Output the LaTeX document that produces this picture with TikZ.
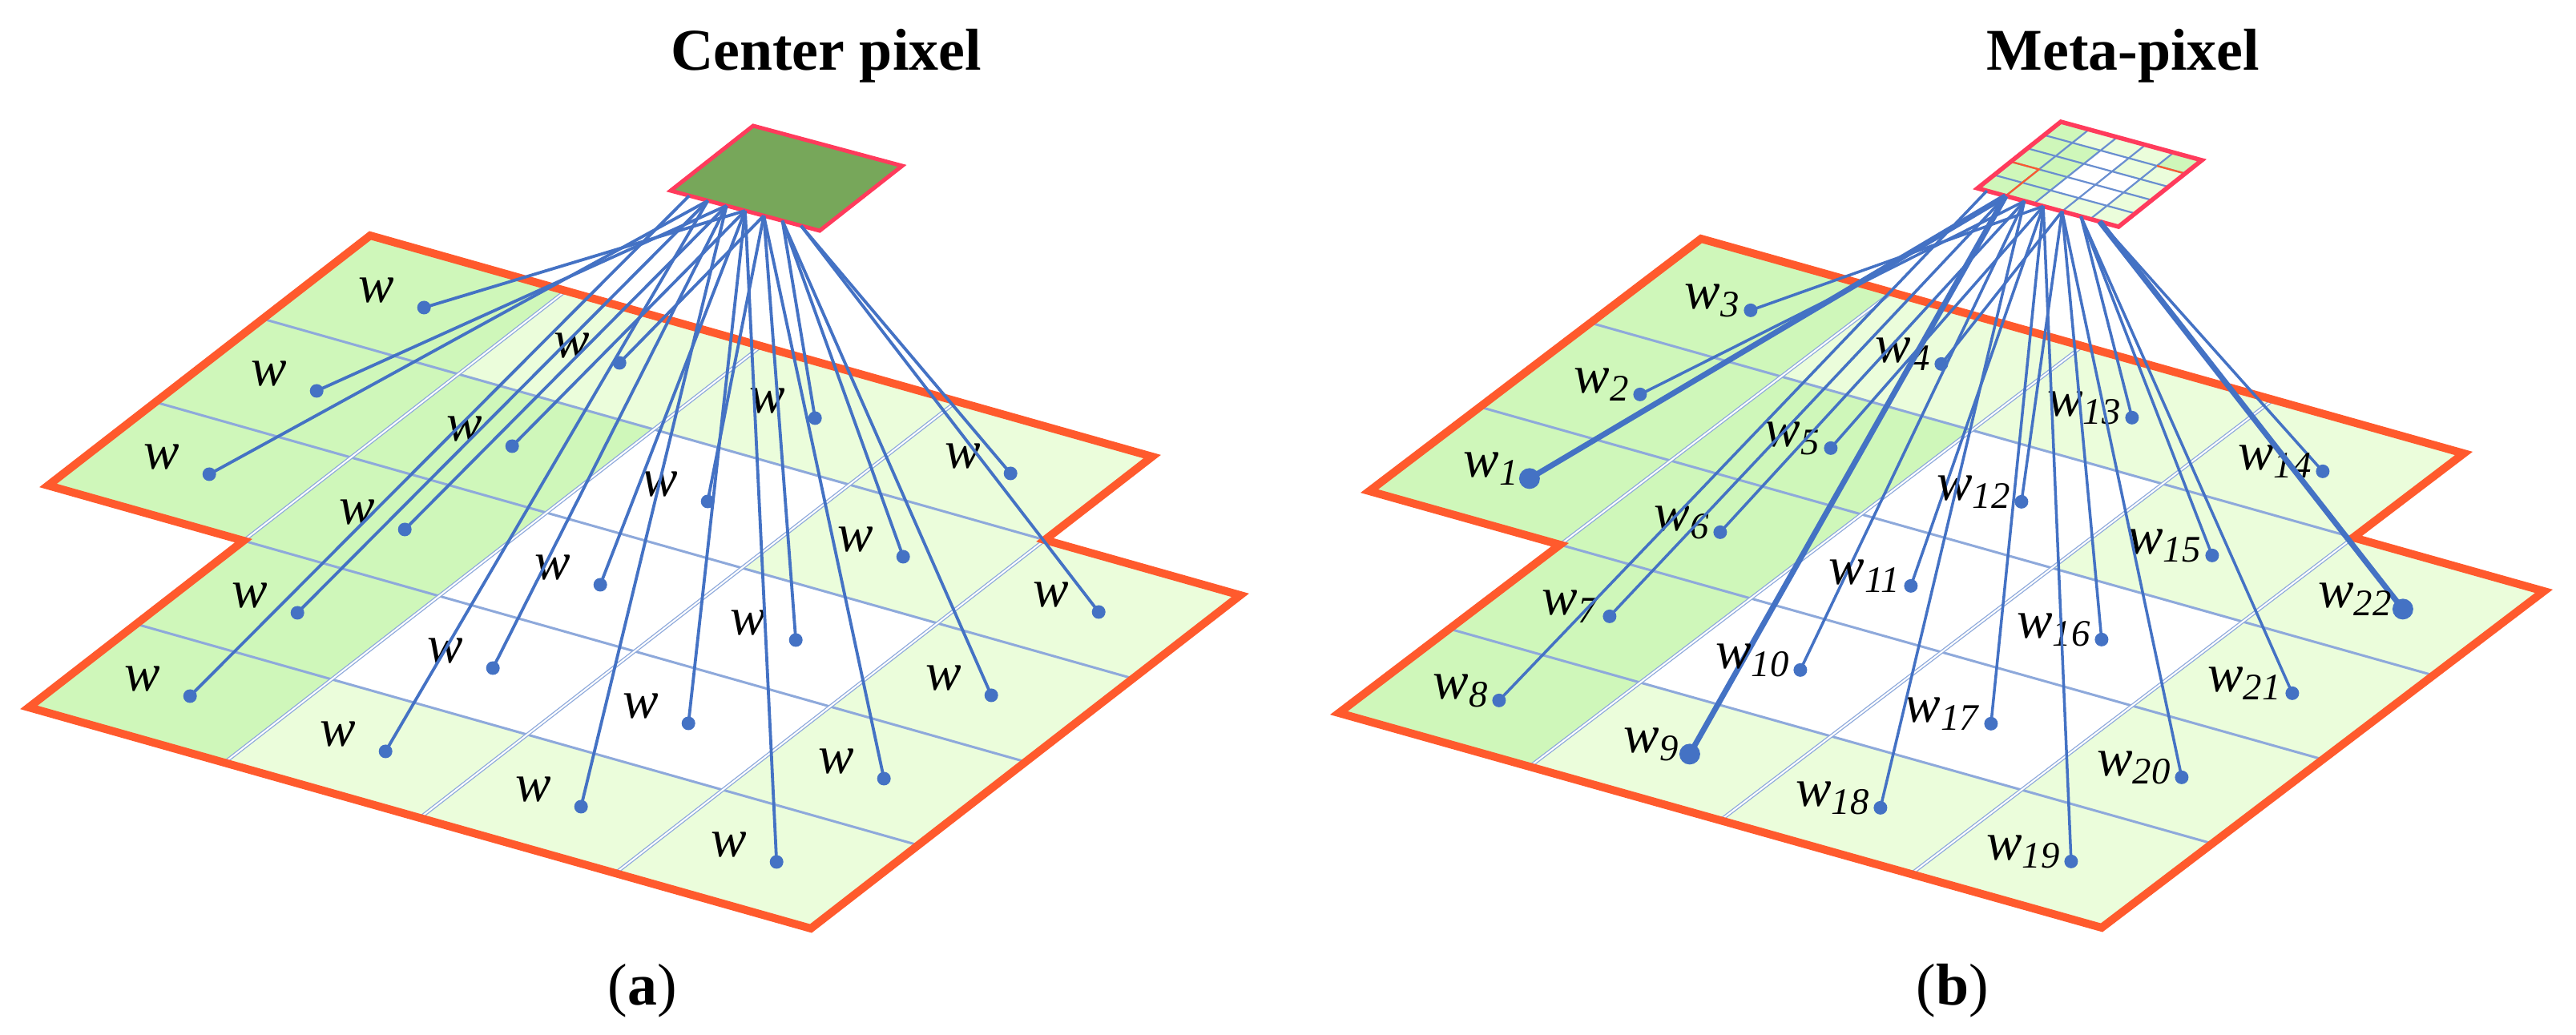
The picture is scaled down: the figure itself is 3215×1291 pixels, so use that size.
\documentclass[tikz,border=0pt]{standalone}
\usepackage{fontspec}
\setmainfont{Liberation Serif}
\definecolor{dk}{HTML}{CFF7BA}
\definecolor{lt}{HTML}{EBFDDB}
\definecolor{gl}{HTML}{8EA9DB}
\definecolor{ol}{HTML}{FF5A2D}
\definecolor{cb}{HTML}{4472C4}
\definecolor{sq}{HTML}{77A75A}
\definecolor{sqb}{HTML}{FF3B5C}
\begin{document}
\begin{tikzpicture}[x=0.1mm,y=-0.1mm,
  vline/.style={draw=gl,line width=0.13mm,double=white,double distance=0.2mm},
  uline/.style={draw=gl,line width=0.3mm},
  outl/.style={draw=ol,line width=1mm,line join=miter},
  conn/.style={draw=cb,line width=0.38mm},
  thn/.style={draw=cb,line width=0.35mm},
  thk/.style={draw=cb,line width=0.7mm},
  dthn/.style={fill=cb,radius=0.85mm},
  dthk/.style={fill=cb,radius=1.3mm},
  lab/.style={font=\fontsize{19}{22}\selectfont,inner sep=0pt},
  ttl/.style={font=\bfseries\fontsize{21}{24}\selectfont},
  captxt/.style={font=\fontsize{21}{24}\selectfont}]
\useasboundingbox (0,0) rectangle (3215,1291);

% ---------- panel (a) ----------
\begin{scope}[shift={(462,294)},x={(24.4mm,-6.9mm)},y={(-13.4mm,-10.4mm)}]
  \foreach \i/\j in {0/0,0/1,0/2,1/1,1/2,1/3,1/4}
    \fill[dk] (\i,\j) -- ++(1,0) -- ++(0,1) -- ++(-1,0) -- cycle;
  \foreach \i/\j in {1/0,2/0,3/0,3/1,4/1,4/2,4/3,4/4,3/4,2/4}
    \fill[lt] (\i,\j) -- ++(1,0) -- ++(0,1) -- ++(-1,0) -- cycle;
  \draw[uline] (0,1) -- (4,1) (0,2) -- (5,2) (1,3) -- (5,3) (1,4) -- (5,4);
  \draw[vline] (1,0) -- (1,3) (2,0) -- (2,5) (3,0) -- (3,5) (4,1) -- (4,5);
  \draw[outl] (0,0) -- (4,0) -- (4,1) -- (5,1) -- (5,5) -- (1,5) -- (1,3) -- (0,3) -- cycle;
  \foreach \i/\j in {0/0,0/1,0/2,1/0,1/1,1/2,1/3,1/4,2/0,2/1,2/2,2/3,2/4,3/0,3/1,3/2,3/3,3/4,4/1,4/2,4/3,4/4}
    \coordinate (da\i\j) at (\i+0.55,\j+0.5);
\end{scope}
\begin{scope}[shift={(940,157)},x={(18.6mm,-5mm)},y={(-10.3mm,-8.1mm)}]
  \filldraw[fill=sq,draw=sqb,line width=0.5mm] (0,0) -- (1,0) -- (1,1) -- (0,1) -- cycle;
  \foreach \i/\j in {0/0,0/1,0/2,1/0,1/1,1/2,1/3,1/4,2/0,2/1,2/2,2/3,2/4,3/0,3/1,3/2,3/3,3/4,4/1,4/2,4/3,4/4}{
    \pgfmathsetmacro\t{0.25+0.75*(\i-\j+2)/6}
    \coordinate (sa\i\j) at (\t,1);}
\end{scope}
\foreach \i/\j in {0/0,0/1,0/2,1/0,1/1,1/2,1/3,1/4,2/0,2/1,2/2,2/3,2/4,3/0,3/1,3/2,3/3,3/4,4/1,4/2,4/3,4/4}{
  \draw[conn] (sa\i\j) -- (da\i\j);
  \fill[dthn] (da\i\j) circle;
  \node[lab,anchor=east,xshift=-3.6mm,yshift=2.1mm] (la\i\j) at (da\i\j) {\textit{w}};
}
\node[ttl] (ta) at (1031,70) {Center pixel};
\node[captxt] (ca) at (802,1237) {(\textbf{a})};

% ---------- panel (b) ----------
\begin{scope}[shift={(2123,298)},x={(23.8mm,-6.7mm)},y={(-13.8mm,-10.5mm)}]
  \foreach \i/\j in {0/0,0/1,0/2,1/1,1/2,1/3,1/4}
    \fill[dk] (\i,\j) -- ++(1,0) -- ++(0,1) -- ++(-1,0) -- cycle;
  \foreach \i/\j in {1/0,2/0,3/0,3/1,4/1,4/2,4/3,4/4,3/4,2/4}
    \fill[lt] (\i,\j) -- ++(1,0) -- ++(0,1) -- ++(-1,0) -- cycle;
  \draw[uline] (0,1) -- (4,1) (0,2) -- (5,2) (1,3) -- (5,3) (1,4) -- (5,4);
  \draw[vline] (1,0) -- (1,3) (2,0) -- (2,5) (3,0) -- (3,5) (4,1) -- (4,5);
  \draw[outl] (0,0) -- (4,0) -- (4,1) -- (5,1) -- (5,5) -- (1,5) -- (1,3) -- (0,3) -- cycle;
  \foreach \i/\j/\n in {0/2/1,0/1/2,0/0/3,1/0/4,1/1/5,1/2/6,1/3/7,1/4/8,2/4/9,2/3/10,2/2/11,2/1/12,2/0/13,3/0/14,3/1/15,3/2/16,3/3/17,3/4/18,4/4/19,4/3/20,4/2/21,4/1/22}
    \coordinate (db\n) at (\i+0.55,\j+0.5);
\end{scope}
\begin{scope}[shift={(2572,152)},x={(3.52mm,-0.96mm)},y={(-2.08mm,-1.66mm)}]
  \fill[white] (0,0) -- (5,0) -- (5,5) -- (0,5) -- cycle;
  \foreach \i/\j in {0/0,0/1,0/2,1/1,1/2,1/3,1/4,4/0,0/3,0/4}
    \fill[dk] (\i,\j) -- ++(1,0) -- ++(0,1) -- ++(-1,0) -- cycle;
  \foreach \i/\j in {1/0,2/0,3/0,3/1,4/1,4/2,4/3,4/4,3/4,2/4}
    \fill[lt] (\i,\j) -- ++(1,0) -- ++(0,1) -- ++(-1,0) -- cycle;
  \draw[cb!80,line width=0.22mm] (1,0) -- (1,5) (2,0) -- (2,5) (3,0) -- (3,5) (4,0) -- (4,5)
     (0,1) -- (5,1) (0,2) -- (5,2) (0,3) -- (5,3) (0,4) -- (5,4);
  \draw[ol,line width=0.22mm] (4,1) -- (5,1) (0,3) -- (1,3) -- (1,5);
  \draw[sqb,line width=0.55mm] (0,0) -- (5,0) -- (5,5) -- (0,5) -- cycle;
  \foreach \i/\j/\n in {0/2/1,0/1/2,0/0/3,1/0/4,1/1/5,1/2/6,1/3/7,1/4/8,2/4/9,2/3/10,2/2/11,2/1/12,2/0/13,3/0/14,3/1/15,3/2/16,3/3/17,3/4/18,4/4/19,4/3/20,4/2/21,4/1/22}{
    \pgfmathsetmacro\t{5*(0.2+0.8*(\i-\j+2)/6)}
    \coordinate (sb\n) at (\t,5);}
\end{scope}
\foreach \n/\s in {1/thk,2/thn,3/thn,4/thn,5/thn,6/thn,7/thn,8/thn,9/thk,10/thn,11/thn,12/thn,13/thn,14/thn,15/thn,16/thn,17/thn,18/thn,19/thn,20/thn,21/thn,22/thk}{
  \draw[\s] (sb\n) -- (db\n);
  \fill[d\s] (db\n) circle;
  \node[lab,anchor=east,xshift=-1.2mm,yshift=1.2mm] (lb\n) at (db\n) {\textit{w}\textsubscript{\textit{\n}}};
}
\node[ttl] (tb) at (2650,70) {Meta-pixel};
\node[captxt] (cbl) at (2437,1237) {(\textbf{b})};
\end{tikzpicture}
\end{document}
